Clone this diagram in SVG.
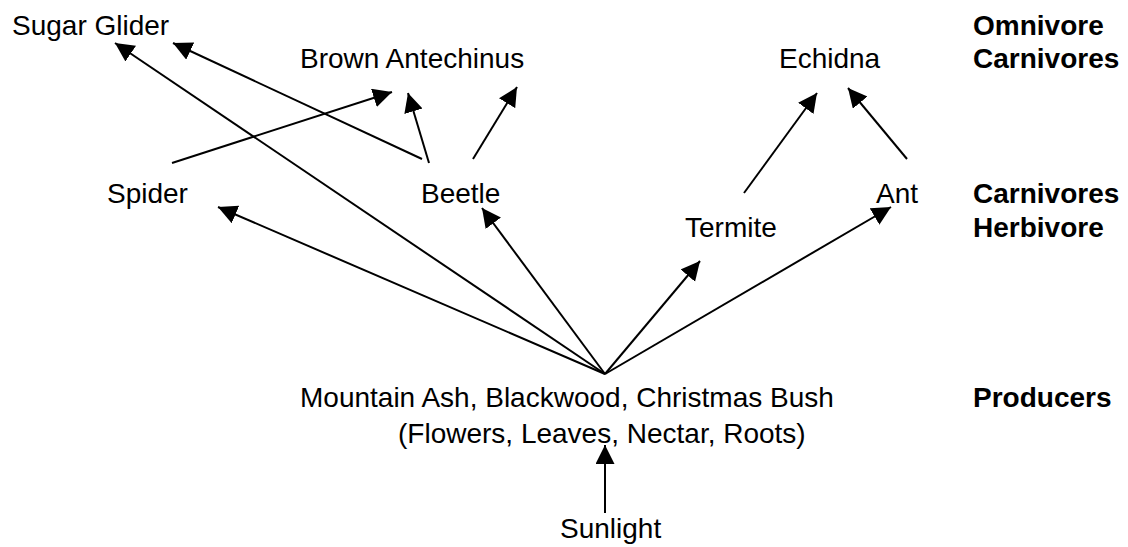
<svg xmlns="http://www.w3.org/2000/svg" width="1128" height="547" viewBox="0 0 1128 547">
<style>
  text { font-family: "Liberation Sans", Arial, sans-serif; font-size: 28px; fill: #000; }
  .lvl { font-weight: bold; }
  .c line { stroke: #000; stroke-width: 2; marker-end: url(#ah); }
</style>
<defs>
  <marker id="ah" markerUnits="userSpaceOnUse" markerWidth="20" markerHeight="20" refX="19" refY="9.5" orient="auto">
    <path d="M0,0 L19,9.5 L0,19 z" fill="#000"/>
  </marker>
</defs>
<rect width="1128" height="547" fill="#fff"/>
<g id="connectors" class="c">
  <line x1="605" y1="374" x2="115" y2="43"/>
  <line x1="422" y1="159" x2="173" y2="43"/>
  <line x1="172" y1="163" x2="392" y2="92"/>
  <line x1="429" y1="163" x2="408" y2="93"/>
  <line x1="473" y1="159" x2="517" y2="87"/>
  <line x1="605" y1="374" x2="218" y2="207"/>
  <line x1="605" y1="374" x2="482" y2="208"/>
  <line x1="605" y1="374" x2="700" y2="261"/>
  <line x1="605" y1="374" x2="891" y2="207"/>
  <line x1="744" y1="193" x2="817" y2="93"/>
  <line x1="907" y1="159" x2="848" y2="88"/>
  <line x1="605" y1="513" x2="605" y2="445"/>
</g>
<g id="sugar-glider"><text x="12" y="35">Sugar Glider</text></g>
<g id="brown-antechinus"><text x="300" y="68">Brown Antechinus</text></g>
<g id="echidna"><text x="779" y="68">Echidna</text></g>
<g id="spider"><text x="107" y="203">Spider</text></g>
<g id="beetle"><text x="421" y="203">Beetle</text></g>
<g id="ant"><text x="876" y="203">Ant</text></g>
<g id="termite"><text x="685" y="237">Termite</text></g>
<g id="producers">
  <text x="300" y="407">Mountain Ash, Blackwood, Christmas Bush</text>
  <text x="398" y="443">(Flowers, Leaves, Nectar, Roots)</text>
</g>
<g id="sunlight"><text x="560" y="538">Sunlight</text></g>
<g id="levels">
  <text class="lvl" x="973" y="35">Omnivore</text>
  <text class="lvl" x="973" y="68">Carnivores</text>
  <text class="lvl" x="973" y="203">Carnivores</text>
  <text class="lvl" x="973" y="237">Herbivore</text>
  <text class="lvl" x="973" y="407">Producers</text>
</g>
</svg>
